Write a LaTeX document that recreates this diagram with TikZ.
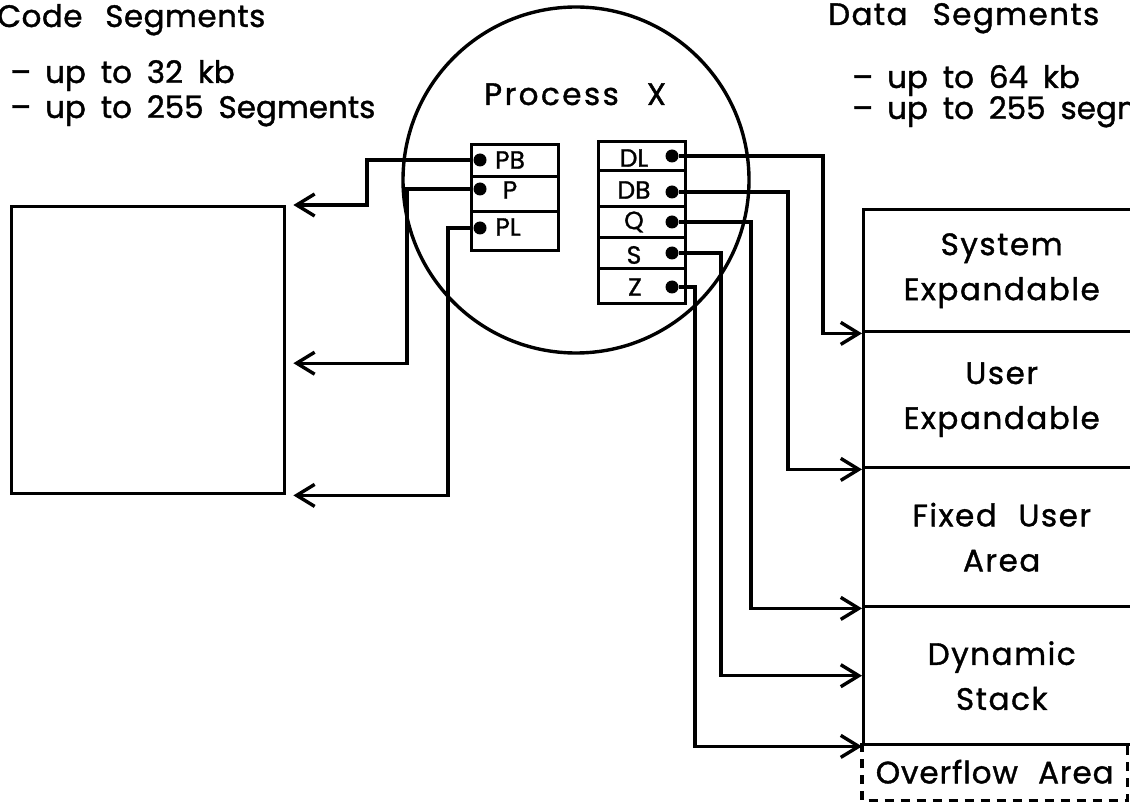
\documentclass[tikz,border=0pt]{standalone}
\usepackage{fontspec}
\setmainfont{Poppins}[FakeBold=1.2]
\newfontfamily\headfont{Poppins}[FakeBold=1.2, LetterSpace=1.5, WordSpace=2.6]
\newfontfamily\datahdfont{Poppins}[FakeBold=1.2, LetterSpace=4.5, WordSpace=2.6]
\newfontfamily\procfont{Poppins}[FakeBold=1.2, LetterSpace=8, WordSpace=2.6]
\newfontfamily\listfont{Poppins}[FakeBold=1.2, WordSpace=1.8]
\newfontfamily\segfont{Poppins}[FakeBold=1.2, LetterSpace=5, WordSpace=2.2]
\newfontfamily\ovflfont{Poppins}[FakeBold=1.2, LetterSpace=3, WordSpace=2.2]
\usetikzlibrary{arrows.meta,calc}
\newcommand\txtbig{\fontsize{31}{45}\selectfont}
\newcommand\txtreg{\fontsize{25}{28}\selectfont}
\tikzset{
  ln/.style={line width=3.4pt},
  link/.style={ln, line join=miter, -{Straight Barb[length=18pt,width=22pt,line width=3.4pt]}},
  regbox/.style={draw, ln, minimum width=87pt, inner sep=0pt, anchor=north west},
  regtxt/.style={font=\txtreg, inner sep=0pt},
  dot/.style={circle, fill, minimum size=13pt, inner sep=0pt},
  seg/.style={draw, ln, minimum width=276pt, inner sep=0pt, anchor=north west,
    font=\segfont\txtbig, align=center},
  caption/.style={font=\txtbig, inner sep=0pt, anchor=base west},
}
\begin{document}
\begin{tikzpicture}[x=1pt,y=-1pt]
\useasboundingbox (0,0) rectangle (1130,810);
\clip (0,0) rectangle (1130,810);

% headings and size limits
\node[caption, font=\headfont\txtbig] (codehd) at (-3,27) {Code Segments};
\node[caption, font=\listfont\txtbig] (c1) at (10,83) {–\hspace{14pt}up to 32 kb};
\node[caption, font=\listfont\txtbig] (c2) at (10,118) {–\hspace{14pt}up to 255 Segments};
\node[caption, font=\datahdfont\txtbig] (datahd) at (828,25) {Data Segments};
\node[caption, font=\listfont\txtbig] (d1) at (852,88) {–\hspace{14pt}up to 64 kb};
\node[caption, font=\listfont\txtbig] (d2) at (852,119) {–\hspace{14pt}up to 255 segments};

% the process
\node[draw, ln, circle, minimum size=346pt, inner sep=0pt] (proc) at (576,180) {};
\node[caption, font=\procfont\txtbig] (proctxt) at (484,105) {Process X};

% code registers
\node[regbox, minimum height=32pt] (rpb) at (470,143) {};
\node[regbox, minimum height=35pt] (rp)  at (470,175) {};
\node[regbox, minimum height=39pt] (rpl) at (470,210) {};
\node[regtxt] at (510,160) {PB};
\node[regtxt] at (510,190) {P};
\node[regtxt] at (508,227) {PL};
\node[dot] (pb) at (480,160) {};
\node[dot] (p)  at (480,189) {};
\node[dot] (pl) at (480,228) {};

% data registers
\node[regbox, minimum height=29pt] (rdl) at (597,140) {};
\node[regbox, minimum height=36pt] (rdb) at (597,169) {};
\node[regbox, minimum height=31pt] (rq)  at (597,205) {};
\node[regbox, minimum height=31pt] (rs)  at (597,236) {};
\node[regbox, minimum height=35pt] (rz)  at (597,267) {};
\node[regtxt] at (634,158) {DL};
\node[regtxt] at (634,190) {DB};
\node[regtxt] at (634,222) {Q};
\node[regtxt] at (634,255) {S};
\node[regtxt] at (635,287) {Z};
\node[dot] (dl) at (672,156) {};
\node[dot] (db) at (672,192) {};
\node[dot] (q)  at (672,222) {};
\node[dot] (s)  at (672,253) {};
\node[dot] (z)  at (672,287) {};

% code segment
\node[draw, ln, minimum width=273pt, minimum height=287pt, anchor=north west, inner sep=0pt] (code) at (10,205) {};

% data segment
\node[seg, minimum height=122pt] (sysx) at (862,208) {System\\Expandable};
\node[seg, minimum height=136pt] (usrx) at (862,330) {User\\Expandable};
\node[seg, minimum height=139pt] (fixu) at (862,466) {Fixed User\\Area};
\node[seg, minimum height=138pt] (dyst) at (862,605) {Dynamic\\Stack};
\node[font=\ovflfont\txtbig, minimum width=265pt, minimum height=57pt, inner sep=0pt, anchor=north west] (ovfl) at (862,743) {Overflow Area};
\draw[ln, dash pattern=on 9pt off 7pt] (ovfl.north west) -- (ovfl.south west) -- (ovfl.south east) -- (ovfl.north east);

% code pointers
\draw[link] (pb) -- ([xshift=-113pt]pb.center) |- ([xshift=7pt]code.north east);
\draw[link] (p)  -- ([xshift=-73pt]p.center)   |- ([xshift=7pt,yshift=-13pt]code.east);
\draw[link] (pl) -- ([xshift=-32pt]pl.center)  |- ([xshift=7pt]code.south east);

% data pointers
\draw[link] (dl) -- ([xshift=151pt]dl.center) |- (sysx.south west);
\draw[link] (db) -- ([xshift=116pt]db.center) |- (usrx.south west);
\draw[link] (q)  -- ([xshift=79pt]q.center)   |- (fixu.south west);
\draw[link] (s)  -- ([xshift=49pt]s.center)   |- (dyst.west);
\draw[link] (z)  -- ([xshift=23pt]z.center)   |- (dyst.south west);
\end{tikzpicture}
\end{document}
